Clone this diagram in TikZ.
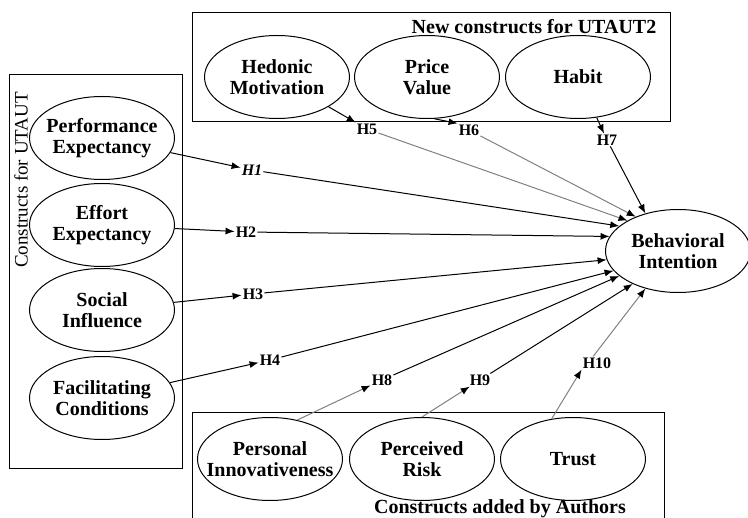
\documentclass[tikz,border=0pt]{standalone}
\usepackage{fontspec}
\setmainfont{Liberation Serif}
\usetikzlibrary{shapes.geometric,arrows.meta}

\begin{document}
\begin{tikzpicture}[x=1pt, y=-1pt,
    construct/.style={draw, ellipse, line width=1pt, minimum width=145pt, minimum height=83pt, inner xsep=-14pt, inner ysep=0pt, align=center, font=\fontsize{20}{21}\selectfont\bfseries},
    hyp/.style={inner sep=1pt, font=\fontsize{16}{18}\selectfont\bfseries},
    link/.style={-{Latex[length=9pt,width=7pt]}, line width=1pt},
    softlink/.style={link, lightline, -{Latex[length=9pt,width=7pt,color=black]}},
    group/.style={draw, line width=1pt}]
	\definecolor{lightline}{rgb}{0.5,0.5,0.5}
    \useasboundingbox (0,0) rectangle (748,518);
    \clip (0,0) rectangle (748,518);

    % Draw groups
    \draw[group] (9,75) rectangle (182,469);
    \draw[group] (192,13) rectangle (670,122);
    \draw[group] (192,413) rectangle (664,530);
    \node[rotate=90, font=\fontsize{19}{21}\selectfont] (utaut) at (21,180) {Constructs for UTAUT};
    \node[font=\fontsize{20}{21}\selectfont\bfseries] (utaut2) at (534,27) {New constructs for UTAUT2};
    \node[font=\fontsize{20}{21}\selectfont\bfseries, inner sep=0pt] (authors) at (500,509) {Constructs added by Authors};

    % Draw constructs
    \node[construct] (pe) at (102,138) {Performance\\Expectancy};
    \node[construct] (ee) at (102,225) {Effort\\Expectancy};
    \node[construct] (si) at (102,310) {Social\\Influence};
    \node[construct] (fc) at (102,398) {Facilitating\\Conditions};
    \node[construct] (hm) at (277,77) {Hedonic\\Motivation};
    \node[construct] (pv) at (427,77) {Price\\Value};
    \node[construct] (hb) at (578,77) {Habit};
    \node[construct] (pi) at (270,459) {Personal\\Innovativeness};
    \node[construct] (pr) at (422,459) {Perceived\\Risk};
    \node[construct] (tr) at (573,459) {Trust};
    \node[construct] (bi) at (678,251) {Behavioral\\Intention};

    % Draw hypotheses
    \node[hyp, font=\fontsize{16}{18}\selectfont\bfseries\itshape] (h1) at (252,170) {H1};
    \node[hyp] (h2) at (246,232) {H2};
    \node[hyp] (h3) at (253,294) {H3};
    \node[hyp] (h4) at (270,360) {H4};
    \node[hyp] (h5) at (367,129) {H5};
    \node[hyp] (h6) at (469,130) {H6};
    \node[hyp] (h7) at (607,140) {H7};
    \node[hyp] (h8) at (382,380) {H8};
    \node[hyp] (h9) at (480,380) {H9};
    \node[hyp] (h10) at (597,363) {H10};

    \draw[link] (pe) -- (h1);
    \draw[link] (ee) -- (h2);
    \draw[link] (si) -- (h3);
    \draw[link] (fc) -- (h4);
    \draw[link] (hm) -- (h5);
    \draw[link] (pv.280) -- (h6.north west);
    \draw[link] (hb) -- (h7);
    \draw[softlink] (pi.55) -- (h8);
    \draw[softlink] (pr.north) -- (h9);
    \draw[softlink] (tr.118) -- (h10.south west);

    \draw[link] (h1) -- (bi.157);
    \draw[link] (h2) -- (bi.168);
    \draw[link] (h3) -- (bi.187);
    \draw[link] (h4) -- (bi.197);
    \draw[softlink] (h5) -- (bi.149);
    \draw[softlink] (h6) -- (bi.141);
    \draw[link] (h7) -- (bi.131);
    \draw[link] (h8) -- (bi.203);
    \draw[link] (h9) -- (bi.216);
    \draw[softlink] (h10.120) -- (bi.229);
\end{tikzpicture}
\end{document}
